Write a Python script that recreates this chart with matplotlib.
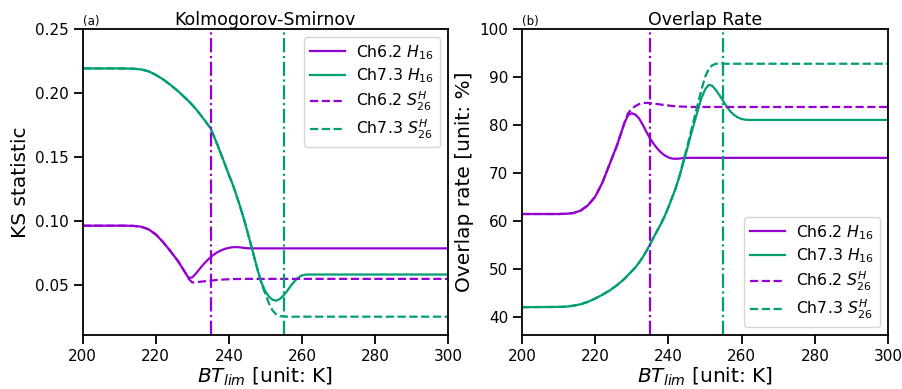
import matplotlib
matplotlib.use("Agg")
import matplotlib.pyplot as plt

# Brightness-temperature threshold grid [K]
bt = [200, 210, 212, 214, 216, 218, 220, 222, 224, 226, 228, 229, 230, 231,
      232, 233, 234, 235, 236, 237, 238, 239, 240, 241, 242, 243, 244, 245,
      246, 247, 248, 249, 250, 251, 252, 253, 254, 255, 256, 257, 258, 259,
      260, 261, 262, 264, 270, 280, 290, 300]

# Kolmogorov-Smirnov statistic
ks_ch62_h16 = [0.0963, 0.0963, 0.0963, 0.0961, 0.0955, 0.0935, 0.0895, 0.0835,
               0.0765, 0.0690, 0.0600, 0.0555, 0.0560, 0.0590, 0.0625, 0.0660,
               0.0690, 0.0717, 0.0740, 0.0758, 0.0772, 0.0783, 0.0790, 0.0795,
               0.0796, 0.0794, 0.0790, 0.0787, 0.0786, 0.0786, 0.0786, 0.0786,
               0.0786, 0.0786, 0.0786, 0.0786, 0.0786, 0.0786, 0.0786, 0.0786,
               0.0786, 0.0786, 0.0786, 0.0786, 0.0786, 0.0786, 0.0786, 0.0786,
               0.0786, 0.0786]
ks_ch73_h16 = [0.2190, 0.2190, 0.2189, 0.2188, 0.2182, 0.2168, 0.2140, 0.2105,
               0.2062, 0.2015, 0.1962, 0.1935, 0.1905, 0.1872, 0.1837, 0.1800,
               0.1762, 0.1723, 0.1655, 0.1585, 0.1512, 0.1437, 0.1360, 0.1290,
               0.1207, 0.1120, 0.1028, 0.0925, 0.0820, 0.0712, 0.0605, 0.0515,
               0.0450, 0.0408, 0.0385, 0.0378, 0.0392, 0.0420, 0.0455, 0.0495,
               0.0530, 0.0558, 0.0575, 0.0581, 0.0582, 0.0582, 0.0582, 0.0582,
               0.0582, 0.0582]
ks_ch62_s26 = [0.0963, 0.0963, 0.0963, 0.0961, 0.0955, 0.0935, 0.0895, 0.0835,
               0.0765, 0.0690, 0.0600, 0.0548, 0.0520, 0.0522, 0.0525, 0.0528,
               0.0531, 0.0534, 0.0537, 0.0540, 0.0542, 0.0544, 0.0545, 0.0546,
               0.0547, 0.0547, 0.0548, 0.0548, 0.0548, 0.0548, 0.0548, 0.0548,
               0.0548, 0.0548, 0.0548, 0.0548, 0.0548, 0.0548, 0.0548, 0.0548,
               0.0548, 0.0548, 0.0548, 0.0548, 0.0548, 0.0548, 0.0548, 0.0548,
               0.0548, 0.0548]
ks_ch73_s26 = [0.2190, 0.2190, 0.2189, 0.2188, 0.2182, 0.2168, 0.2140, 0.2105,
               0.2062, 0.2015, 0.1962, 0.1935, 0.1905, 0.1872, 0.1837, 0.1800,
               0.1762, 0.1723, 0.1655, 0.1585, 0.1512, 0.1437, 0.1360, 0.1290,
               0.1207, 0.1120, 0.1028, 0.0925, 0.0820, 0.0712, 0.0605, 0.0505,
               0.0430, 0.0355, 0.0300, 0.0270, 0.0258, 0.0254, 0.0253, 0.0253,
               0.0253, 0.0253, 0.0253, 0.0253, 0.0253, 0.0253, 0.0253, 0.0253,
               0.0253, 0.0253]

# Overlap rate [%]
or_ch62_h16 = [61.4, 61.4, 61.45, 61.6, 62.1, 63.2, 65.0, 68.0, 71.9, 75.8,
               80.4, 82.0, 82.4, 82.1, 81.3, 80.0, 78.5, 77.1, 76.0, 75.0,
               74.2, 73.6, 73.2, 72.95, 72.9, 72.95, 73.05, 73.1, 73.1, 73.1,
               73.1, 73.1, 73.1, 73.1, 73.1, 73.1, 73.1, 73.1, 73.1, 73.1,
               73.1, 73.1, 73.1, 73.1, 73.1, 73.1, 73.1, 73.1, 73.1, 73.1]
or_ch73_h16 = [42.0, 42.05, 42.1, 42.3, 42.6, 43.1, 43.8, 44.6, 45.5, 46.6,
               47.9, 48.7, 49.5, 50.3, 51.3, 52.4, 53.7, 55.1, 56.6, 58.0,
               59.4, 61.0, 62.8, 64.8, 66.8, 69.2, 71.9, 74.6, 77.5, 80.2,
               82.9, 85.5, 87.3, 88.3, 88.1, 87.2, 86.1, 84.9, 83.7, 82.7,
               82.0, 81.5, 81.2, 81.05, 81.0, 81.0, 81.0, 81.0, 81.0, 81.0]
or_ch62_s26 = [61.4, 61.4, 61.45, 61.6, 62.1, 63.2, 65.0, 68.0, 71.9, 75.8,
               80.4, 82.4, 83.3, 83.9, 84.3, 84.5, 84.55, 84.5, 84.4, 84.3,
               84.2, 84.1, 84.0, 83.9, 83.85, 83.8, 83.78, 83.75, 83.72, 83.7,
               83.7, 83.7, 83.7, 83.7, 83.7, 83.7, 83.7, 83.7, 83.7, 83.7,
               83.7, 83.7, 83.7, 83.7, 83.7, 83.7, 83.7, 83.7, 83.7, 83.7]
or_ch73_s26 = [42.0, 42.05, 42.1, 42.3, 42.6, 43.1, 43.8, 44.6, 45.5, 46.6,
               47.9, 48.7, 49.5, 50.3, 51.3, 52.4, 53.7, 55.1, 56.6, 58.0,
               59.4, 61.0, 62.8, 64.8, 66.8, 69.2, 72.2, 75.0, 78.1, 81.2,
               84.2, 87.2, 89.9, 91.6, 92.4, 92.7, 92.75, 92.7, 92.7, 92.7,
               92.7, 92.7, 92.7, 92.7, 92.7, 92.7, 92.7, 92.7, 92.7, 92.7]

# Selected thresholds for each channel [K]
thr_ch62 = 235
thr_ch73 = 255

labels = ["Ch6.2 $H_{16}$", "Ch7.3 $H_{16}$",
          "Ch6.2 $S_{26}^{H}$", "Ch7.3 $S_{26}^{H}$"]

PURPLE = "#9400D3"
GREEN = "#009E73"

plt.rcParams["font.family"] = ["DejaVu Sans"]
plt.rcParams["axes.linewidth"] = 1.3
plt.rcParams["xtick.major.size"] = 6.5
plt.rcParams["ytick.major.size"] = 6.5
plt.rcParams["xtick.major.width"] = 1.3
plt.rcParams["ytick.major.width"] = 1.3
plt.rcParams["xtick.labelsize"] = 11
plt.rcParams["ytick.labelsize"] = 11

fig = plt.figure(figsize=(9.02, 3.89), dpi=100)
ax1 = fig.add_axes([0.0917, 0.1388, 0.4050, 0.7874])
ax2 = fig.add_axes([0.5787, 0.1388, 0.4058, 0.7874])


def draw(ax, series, ylim, yticks, ylabel, title, tag, legend_loc):
    styles = [(PURPLE, "-"), (GREEN, "-"), (PURPLE, "--"), (GREEN, "--")]
    for vals, (c, ls), lab in zip(series, styles, labels):
        ax.plot(bt, vals, color=c, linestyle=ls, linewidth=1.6, label=lab)
    ax.axvline(thr_ch62, color=PURPLE, linestyle="-.", linewidth=1.6)
    ax.axvline(thr_ch73, color=GREEN, linestyle="-.", linewidth=1.6)
    ax.set_xlim(200, 300)
    ax.set_ylim(*ylim)
    ax.set_xticks([200, 220, 240, 260, 280, 300])
    ax.set_yticks(yticks)
    ax.set_xlabel("$BT_{lim}$ [unit: K]", fontsize=14.5, labelpad=1)
    ax.set_ylabel(ylabel, fontsize=14.5, labelpad=4)
    ax.set_title(title, fontsize=12.5, pad=3)
    ax.set_title(tag, loc="left", fontsize=8.5, pad=3)
    ax.legend(loc=legend_loc, fontsize=11.3, labelspacing=0.3,
              handlelength=2.2, handletextpad=0.7, borderpad=0.4)


draw(ax1, [ks_ch62_h16, ks_ch73_h16, ks_ch62_s26, ks_ch73_s26],
     (0.011, 0.25), [0.05, 0.10, 0.15, 0.20, 0.25],
     "KS statistic", "Kolmogorov-Smirnov", "(a)", "upper right")
ax1.set_yticklabels(["0.05", "0.10", "0.15", "0.20", "0.25"])

draw(ax2, [or_ch62_h16, or_ch73_h16, or_ch62_s26, or_ch73_s26],
     (36.2, 100), [40, 50, 60, 70, 80, 90, 100],
     "Overlap rate [unit: %]", "Overlap Rate", "(b)", "lower right")

fig.savefig("out.png", dpi=100)
